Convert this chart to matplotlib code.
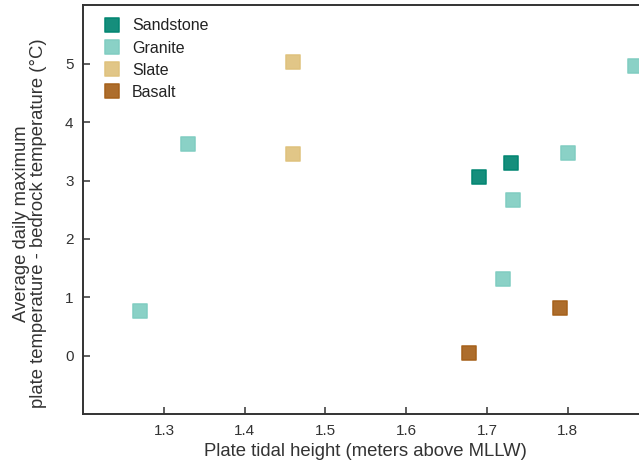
import matplotlib
matplotlib.use("Agg")
import matplotlib.pyplot as plt

plt.rcParams['font.family'] = ['Liberation Sans', 'DejaVu Sans']

rock_types = ["Sandstone", "Granite", "Slate", "Basalt"]
colors = ["#018571", "#80cdc1", "#dfc27d", "#a6611a"]

sandstone_x = [1.69, 1.73]
sandstone_y = [3.06, 3.30]
granite_x = [1.27, 1.33, 1.72, 1.732, 1.80, 1.883]
granite_y = [0.77, 3.62, 1.32, 2.66, 3.48, 4.97]
slate_x = [1.46, 1.46]
slate_y = [5.04, 3.45]
basalt_x = [1.678, 1.79]
basalt_y = [0.05, 0.82]

xs = [sandstone_x, granite_x, slate_x, basalt_x]
ys = [sandstone_y, granite_y, slate_y, basalt_y]

xticks = [1.3, 1.4, 1.5, 1.6, 1.7, 1.8]
yticks = [0, 1, 2, 3, 4, 5]

fig = plt.figure(figsize=(6.39, 4.65), dpi=100)
ax = fig.add_axes([0.1304, 0.1097, 0.8843, 0.8785])

for name, c, x, y in zip(rock_types, colors, xs, ys):
    ax.scatter(x, y, marker="s", s=110, color=c, alpha=0.92,
               edgecolors=c, linewidths=1.2, label=name, zorder=3)

ax.set_xlim(1.2, 1.9)
ax.set_ylim(-1, 6)
ax.set_xticks(xticks)
ax.set_xticklabels([f"{t:.1f}" for t in xticks])
ax.set_yticks(yticks)
ax.set_yticklabels([str(t) for t in yticks])

for s in ax.spines.values():
    s.set_color("#333333")
    s.set_linewidth(1.4)
ax.spines["right"].set_visible(False)

ax.tick_params(direction="in", length=5, width=1.1, color="#333333",
               labelcolor="#333333", labelsize=11, pad=7)
ax.tick_params(axis="y", right=False)

ax.set_xlabel("Plate tidal height (meters above MLLW)", fontsize=13.3,
              color="#333333", labelpad=4)
ax.set_ylabel("Average daily maximum\nplate temperature - bedrock temperature (°C)",
              fontsize=13.3, color="#333333", linespacing=1.0)
ax.yaxis.set_label_coords(-0.064, 0.466)

leg = ax.legend(loc="upper left", bbox_to_anchor=(0.0253, 0.984),
                frameon=False, fontsize=11.5, borderaxespad=0.0,
                borderpad=0.4, handletextpad=0.75, labelspacing=0.45,
                scatterpoints=1, scatteryoffsets=[0.5], handlelength=1.0)
for t in leg.get_texts():
    t.set_color("#222222")

fig.savefig("out.png", dpi=100)
